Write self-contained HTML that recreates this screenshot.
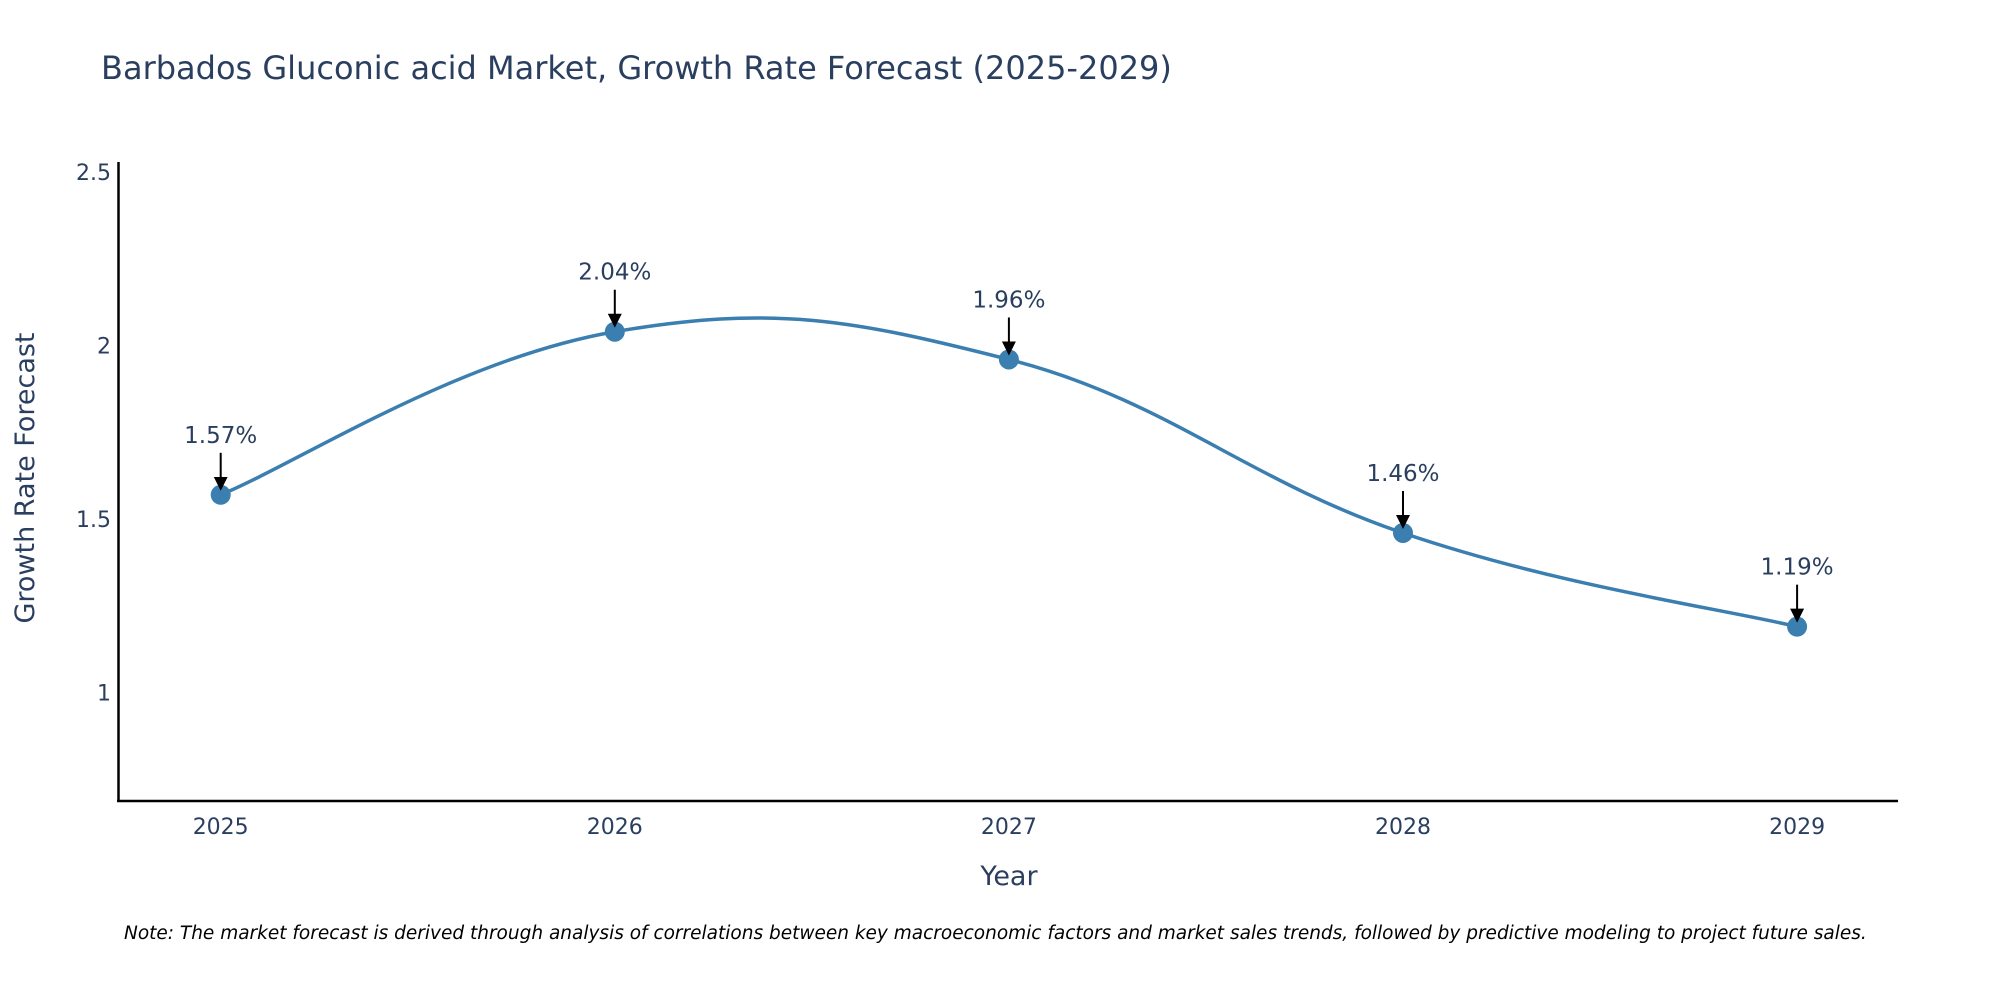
<!DOCTYPE html>
<html><head><meta charset="utf-8"><style>
body{margin:0;background:#fff;}
svg{display:block;font-family:"DejaVu Sans","Liberation Sans",sans-serif;}
</style></head><body>
<svg id="chart" width="2000" height="1000" viewBox="0 0 2000 1000">
<text x="101" y="79" font-size="32" fill="#2a3f5f">Barbados Gluconic acid Market, Growth Rate Forecast (2025-2029)</text>
<g id="yticks"></g>
<g id="xticks"></g>
<line x1="118.5" y1="162" x2="118.5" y2="802" stroke="#000" stroke-width="2.5"/>
<line x1="117" y1="801" x2="1898" y2="801" stroke="#000" stroke-width="2.5"/>
<text transform="translate(34,478) rotate(-90)" text-anchor="middle" font-size="27" fill="#2a3f5f">Growth Rate Forecast</text>
<text x="1009" y="885" text-anchor="middle" font-size="27" fill="#2a3f5f">Year</text>
<path id="line" fill="none" stroke="#3b7eb0" stroke-width="3.5"/>
<g id="points"></g>
<defs><marker id="arr" markerWidth="14" markerHeight="14" refX="12" refY="7" orient="auto" markerUnits="userSpaceOnUse" viewBox="0 0 14 14"><path d="M0,0 L14,7 L0,14 z" fill="#000"/></marker></defs>
<g id="annots"></g>
<text x="124" y="939" font-size="18.5" font-style="italic" fill="#000">Note: The market forecast is derived through analysis of correlations between key macroeconomic factors and market sales trends, followed by predictive modeling to project future sales.</text>
</svg>
<script>
const years=[2025,2026,2027,2028,2029];
const values=[1.57,2.04,1.96,1.46,1.19];
const labels=["1.57%","2.04%","1.96%","1.46%","1.19%"];
const yTickVals=[1,1.5,2,2.5];
const yTickLabels=["1","1.5","2","2.5"];
const NS="http://www.w3.org/2000/svg";
function xs(v){return 220.7+(v-2025)*394.1;}
function ys(v){return 692.6-(v-1)*347;}
function mk(t,a,p){const e=document.createElementNS(NS,t);for(const k in a)e.setAttribute(k,a[k]);p.appendChild(e);return e;}
const yt=document.getElementById('yticks');
yTickVals.forEach((v,i)=>{const t=mk('text',{x:111,y:ys(v)+8,'text-anchor':'end','font-size':22,fill:'#2a3f5f'},yt);


t.textContent=yTickLabels[i];});
const xt=document.getElementById('xticks');
years.forEach(y=>{const t=mk('text',{x:xs(y),y:834,'text-anchor':'middle','font-size':22,fill:'#2a3f5f'},xt);


t.textContent=y;});
const P=years.map((y,i)=>[xs(y),ys(values[i])]);
let d=`M${P[0][0]},${P[0][1]}`;const s=0.2;
for(let i=0;i<P.length-1;i++){const p0=P[i-1]||P[i],p1=P[i],p2=P[i+1],p3=P[i+2]||P[i+1];
const c1=[p1[0]+(p2[0]-p0[0])*s,p1[1]+(p2[1]-p0[1])*s];
const c2=[p2[0]-(p3[0]-p1[0])*s,p2[1]-(p3[1]-p1[1])*s];
d+=` C${c1[0]},${c1[1]} ${c2[0]},${c2[1]} ${p2[0]},${p2[1]}`;}
document.getElementById('line').setAttribute('d',d);
const pg=document.getElementById('points'),ag=document.getElementById('annots');
P.forEach((p,i)=>{const c=mk('circle',{cx:p[0],cy:p[1],r:10,fill:'#3b7eb0'},pg);


const l=mk('line',{x1:p[0],y1:p[1]-42,x2:p[0],y2:p[1]-6,stroke:'#000','stroke-width':2,'marker-end':'url(#arr)'},ag);


const t=mk('text',{x:p[0],y:p[1]-52,'text-anchor':'middle','font-size':23,fill:'#2a3f5f'},ag);


t.textContent=labels[i];});
</script>
</body></html>
